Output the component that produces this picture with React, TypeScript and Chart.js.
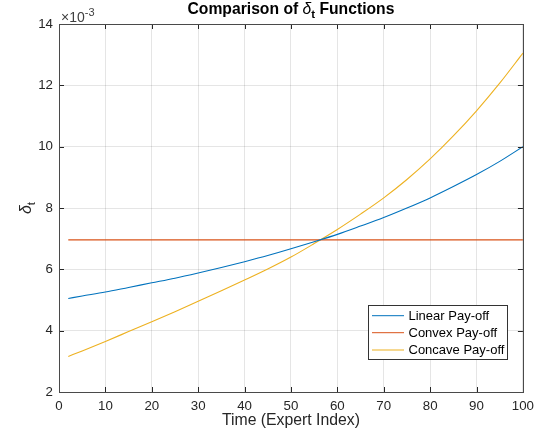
import React, { useEffect, useRef } from "react";
import { Chart, registerables } from "chart.js";

Chart.register(...registerables);

const FONT = '"Liberation Sans", Arial, Helvetica, sans-serif';
const AXIS_COLOR = "#262626";

// Time (expert index) sample positions
const timeIndex = [2, 5, 10, 15, 20, 25, 30, 35, 40, 45, 50, 55, 60, 65, 70, 75, 80, 85, 90, 95, 100];

// delta_t values (x10^-3)
const linearPayoff = [5.05, 5.13, 5.26, 5.41, 5.56, 5.71, 5.88, 6.06, 6.25, 6.45, 6.67, 6.90, 7.14, 7.41, 7.69, 8.0, 8.33, 8.70, 9.09, 9.52, 10.0];
const convexPayoff = [6.96, 6.96, 6.96, 6.96, 6.96, 6.96, 6.96, 6.96, 6.96, 6.96, 6.96, 6.96, 6.96, 6.96, 6.96, 6.96, 6.96, 6.96, 6.96, 6.96, 6.96];
const concavePayoff = [3.16, 3.34, 3.65, 3.97, 4.29, 4.62, 4.96, 5.30, 5.65, 6.01, 6.40, 6.84, 7.30, 7.80, 8.33, 8.93, 9.60, 10.35, 11.17, 12.07, 13.05];

const seriesLabels = ["Linear Pay-off", "Convex Pay-off", "Concave Pay-off"];
const seriesColors = ["#0072BD", "#D95319", "#EDB120"];

const xTicksStep = 10;
const yTicksMin = 2;
const yTicksMax = 14;
const yTicksStep = 2;
const yExponent = -3;
const SCALE = Math.pow(10, yExponent);

type Part = { t: string; font: string; dy?: number };

function drawParts(ctx: CanvasRenderingContext2D, parts: Part[], x: number, y: number, align: "center" | "left") {
  let total = 0;
  for (const p of parts) {
    ctx.font = p.font;
    total += ctx.measureText(p.t).width;
  }
  let cx = align === "center" ? x - total / 2 : x;
  ctx.textBaseline = "alphabetic";
  ctx.textAlign = "left";
  for (const p of parts) {
    ctx.font = p.font;
    ctx.fillText(p.t, cx, y + (p.dy || 0));
    cx += ctx.measureText(p.t).width;
  }
}

const decorPlugin = {
  id: "matlabDecor",
  afterDraw(chart: any) {
    const ctx: CanvasRenderingContext2D = chart.ctx;
    const { left, right, top, bottom } = chart.chartArea;
    const xs = chart.scales.x;
    const ys = chart.scales.y;
    ctx.save();
    // inward ticks
    ctx.strokeStyle = AXIS_COLOR;
    ctx.lineWidth = 1;
    ctx.beginPath();
    for (const t of xs.ticks) {
      const px = Math.round(xs.getPixelForValue(t.value)) + 0.5;
      ctx.moveTo(px, bottom);
      ctx.lineTo(px, bottom - 5);
      ctx.moveTo(px, top);
      ctx.lineTo(px, top + 5);
    }
    for (const t of ys.ticks) {
      const py = Math.round(ys.getPixelForValue(t.value)) + 0.5;
      ctx.moveTo(left, py);
      ctx.lineTo(left + 5, py);
      ctx.moveTo(right, py);
      ctx.lineTo(right - 5, py);
    }
    ctx.stroke();
    // box
    ctx.strokeStyle = "#4a4a4a";
    ctx.strokeRect(Math.round(left) + 0.5, Math.round(top) + 0.5, Math.round(right - left), Math.round(bottom - top));

    // title
    ctx.fillStyle = "#000000";
    drawParts(
      ctx,
      [
        { t: "Comparison of ", font: `bold 15.7px ${FONT}` },
        { t: "δ", font: `italic 15.7px ${FONT}` },
        { t: "t", font: `bold 11.5px ${FONT}`, dy: 4 },
        { t: " Functions", font: `bold 15.7px ${FONT}` },
      ],
      (left + right) / 2,
      14,
      "center"
    );

    // exponent label
    ctx.fillStyle = "#404040";
    drawParts(
      ctx,
      [
        { t: "×10", font: `14px ${FONT}` },
        { t: String(yExponent), font: `11px ${FONT}`, dy: -6 },
      ],
      left + 2,
      22,
      "left"
    );

    // x axis title
    ctx.fillStyle = AXIS_COLOR;
    drawParts(ctx, [{ t: "Time (Expert Index)", font: `15.8px ${FONT}` }], (left + right) / 2, 425, "center");

    // y axis title (rotated)
    ctx.save();
    ctx.translate(31, (top + bottom) / 2);
    ctx.rotate(-Math.PI / 2);
    drawParts(
      ctx,
      [
        { t: "δ", font: `italic 16px ${FONT}` },
        { t: "t", font: `11.5px ${FONT}`, dy: 4 },
      ],
      0,
      0,
      "center"
    );
    ctx.restore();

    // legend
    const lx = 368.5, ly = 305.5, lw = 139, lh = 54;
    ctx.fillStyle = "#ffffff";
    ctx.fillRect(lx, ly, lw, lh);
    ctx.strokeStyle = "#333333";
    ctx.lineWidth = 1;
    ctx.strokeRect(lx, ly, lw, lh);
    const rows = [315.7, 332.7, 350];
    chart.data.datasets.forEach((ds: any, i: number) => {
      ctx.strokeStyle = ds.borderColor;
      ctx.lineWidth = 1;
      ctx.beginPath();
      ctx.moveTo(372, rows[i]);
      ctx.lineTo(404, rows[i]);
      ctx.stroke();
      ctx.fillStyle = "#000000";
      ctx.font = `13px ${FONT}`;
      ctx.textAlign = "left";
      ctx.textBaseline = "middle";
      ctx.fillText(ds.label, 408.5, rows[i] + 0.5);
    });
    ctx.restore();
  },
};

export default function App() {
  const ref = useRef<HTMLCanvasElement | null>(null);
  useEffect(() => {
    if (!ref.current) return;
    document.body.style.margin = "0";
    const values = [linearPayoff, convexPayoff, concavePayoff];
    const chart = new Chart(ref.current, {
      type: "line",
      data: {
        datasets: values.map((arr, i) => ({
          label: seriesLabels[i],
          data: arr.map((v, j) => ({ x: timeIndex[j], y: v * SCALE })),
          borderColor: seriesColors[i],
          backgroundColor: seriesColors[i],
          borderWidth: 1.1,
          pointRadius: 0,
          fill: false,
          cubicInterpolationMode: "monotone" as const,
        })),
      },
      options: {
        animation: false,
        responsive: false,
        maintainAspectRatio: false,
        layout: { padding: { left: 0, right: 16, top: 24, bottom: 0 } },
        plugins: { legend: { display: false }, title: { display: false }, tooltip: { enabled: false } },
        scales: {
          x: {
            type: "linear",
            min: 0,
            max: 100,
            ticks: { stepSize: xTicksStep, color: AXIS_COLOR, font: { family: FONT, size: 13.3 }, padding: 6, maxRotation: 0 },
            grid: { color: "rgba(38,38,38,0.12)", drawTicks: false, lineWidth: 1 },
            border: { display: false },
            afterFit: (s: any) => {
              s.height = 50;
            },
          },
          y: {
            type: "linear",
            min: yTicksMin * SCALE,
            max: yTicksMax * SCALE,
            ticks: {
              stepSize: yTicksStep * SCALE,
              color: AXIS_COLOR,
              font: { family: FONT, size: 13.3 },
              padding: 6,
              callback: (v: any) => String(Math.round(Number(v) / SCALE)),
            },
            grid: { color: "rgba(38,38,38,0.12)", drawTicks: false, lineWidth: 1 },
            border: { display: false },
            afterFit: (s: any) => {
              s.width = 59;
            },
          },
        },
      },
      plugins: [decorPlugin],
    });
    return () => chart.destroy();
  }, []);
  return (
    <div style={{ position: "absolute", left: 0, top: 0, width: 540, height: 442, background: "#fff" }}>
      <canvas ref={ref} width={540} height={442} style={{ display: "block", width: 540, height: 442 }} />
    </div>
  );
}
